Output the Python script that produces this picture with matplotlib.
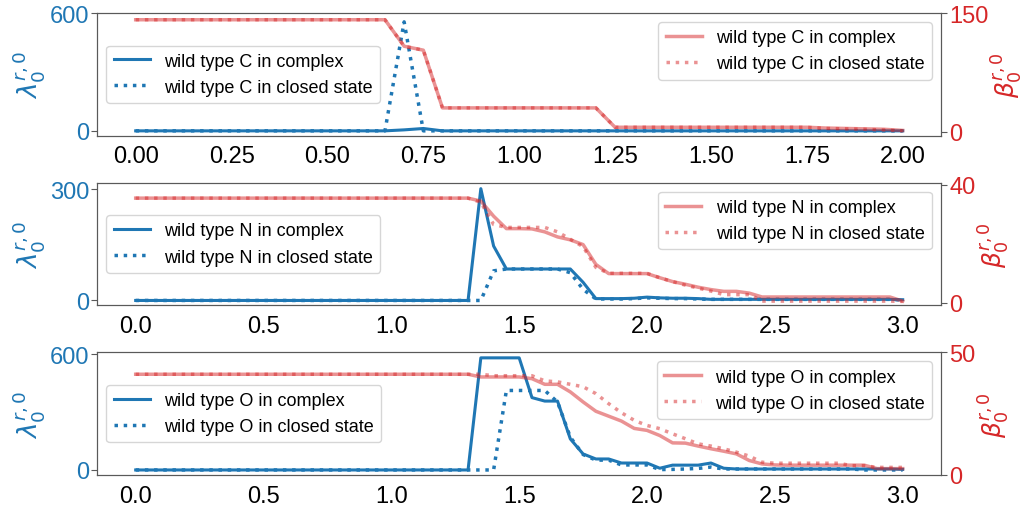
import matplotlib
matplotlib.use("Agg")
import matplotlib.pyplot as plt
import numpy as np

plt.rcParams['font.family'] = ['Liberation Sans', 'DejaVu Sans']

BLUE = '#1f77b4'
RED = '#d62728'

# x grids (step 0.05)
x_c = [round(0.05 * i, 2) for i in range(41)]
x_no = [round(0.05 * i, 2) for i in range(61)]

# --- C ---
lam_C_complex = [0] * 14 + [5, 12] + [0] * 25
lam_C_closed = [0] * 14 + [555] + [0] * 26
beta_C_complex = [141.5] * 14 + [108, 103] + [30] * 9 + [5.5] * 11 + [4.5, 4, 3.5, 3, 1.5]
beta_C_closed = [141.5] * 14 + [108, 103] + [30] * 9 + [5.5] * 11 + [4, 3.5, 3, 2, 1]

# --- N ---
lam_N_complex = ([0] * 27 + [302, 147] + [85] * 6 + [49, 5, 5, 5, 6, 9, 7, 6, 6, 5]
                 + [3] * 15 + [2])
lam_N_closed = ([0] * 28 + [80] + [85] * 5 + [75, 30, 4, 4, 4, 5, 7, 6, 5, 5, 4]
                + [3] * 15 + [1])
beta_N_complex = ([35.4] * 27 + [34.4, 29.3, 25.1, 25.1, 25, 24, 22.3, 21.3, 19.7, 13,
                  9.9, 9.9, 9.9, 9.9, 8.5, 7.2, 6.3, 5.3, 4.5, 3.9, 3.9, 3.3]
                  + [2.0] * 11 + [0.6])
beta_N_closed = ([35.4] * 27 + [34, 26.5, 25.5, 25.5, 25.5, 25.5, 24, 21.5, 19, 12,
                 10, 10, 10, 10, 8.5, 7.2, 6, 5, 4, 2.8, 2.8, 2.8]
                 + [0.6] * 11 + [0.5])

# --- O ---
lam_O_complex = ([0] * 27 + [581] * 4 + [375, 357, 357, 161, 83, 57, 57, 36, 36, 36,
                 9, 25, 25, 25, 36, 9] + [5] * 13 + [3])
lam_O_closed = ([0] * 29 + [412] * 4 + [352, 170, 80, 51, 51, 26, 26, 26, 2, 3, 5, 8,
                15, 5] + [5] * 10 + [0] * 4)
beta_O_complex = ([41.1] * 27 + [40] * 4 + [39.3, 37, 37, 33.9, 29.8, 26, 24, 22, 19,
                  18.2, 16.1, 13.1, 13, 11.8, 10.7, 9.7, 8.6, 5.9, 4.5, 4.1]
                  + [4] * 7 + [2.6] * 3)
beta_O_closed = ([41.1] * 28 + [40.5] * 4 + [38.4, 38, 37, 36, 33.2, 29.1, 25.4, 22.3,
                 20.2, 18.9, 16.8, 14.8, 12.7, 11.8, 10.7, 9.3, 7.7, 5.2]
                 + [4.8] * 6 + [3.8, 3.8, 3.1, 3.1, 3.1])

panels = [
    ('C', x_c, lam_C_complex, lam_C_closed, beta_C_complex, beta_C_closed,
     (-24, 600), [0, 600], (-5, 150), [0, 150]),
    ('N', x_no, lam_N_complex, lam_N_closed, beta_N_complex, beta_N_closed,
     (-13, 318), [0, 300], (-0.8, 40.6), [0, 40]),
    ('O', x_no, lam_O_complex, lam_O_closed, beta_O_complex, beta_O_closed,
     (-26, 609), [0, 600], (0, 50), [0, 50]),
]

fig, axes = plt.subplots(3, 1, figsize=(10.29, 5.10), dpi=100)
fig.subplots_adjust(left=0.0946, right=0.9145, top=0.9725, bottom=0.0667, hspace=0.385)

for ax, (name, x, lc, lo, bc, bc_closed, ylim_l, yt_l, ylim_r, yt_r) in zip(axes, panels):
    ax.plot(x, lc, color=BLUE, lw=2.2, label=f'wild type {name} in complex')
    ax.plot(x, lo, color=BLUE, lw=2.5, ls=':', label=f'wild type {name} in closed state')
    ax.set_yticks(yt_l)
    ax.set_ylim(*ylim_l)
    ax.set_ylabel(r'$\lambda_0^{r,0}$', color=BLUE, fontsize=19, labelpad=1)
    ax.tick_params(axis='y', labelcolor=BLUE, labelsize=17, length=4, color='0.35', pad=2)
    ax.tick_params(axis='x', labelsize=17, length=0, pad=7)
    for s in ax.spines.values():
        s.set_color('0.35')
    ax.legend(loc='center left', fontsize=13)

    ax2 = ax.twinx()
    ax2.plot(x, bc, color=RED, lw=2.5, alpha=0.5, label=f'wild type {name} in complex')
    ax2.plot(x, bc_closed, color=RED, lw=2.5, alpha=0.5, ls=':',
             label=f'wild type {name} in closed state')
    ax2.set_yticks(yt_r)
    ax2.set_ylim(*ylim_r)
    ax2.set_ylabel(r'$\beta_0^{r,0}$', color=RED, fontsize=18, labelpad=1)
    ax2.tick_params(axis='y', labelcolor=RED, labelsize=17, length=4, color='0.35', pad=2)
    for s in ax2.spines.values():
        s.set_color('0.35')
    ax2.legend(loc='upper right', fontsize=13)

axes[0].set_xticks([0.0, 0.25, 0.5, 0.75, 1.0, 1.25, 1.5, 1.75, 2.0])
axes[0].set_xticklabels(['0.00', '0.25', '0.50', '0.75', '1.00', '1.25', '1.50', '1.75', '2.00'])
for ax in axes[1:]:
    ax.set_xticks([0.0, 0.5, 1.0, 1.5, 2.0, 2.5, 3.0])

fig.savefig('out.png', dpi=100)
